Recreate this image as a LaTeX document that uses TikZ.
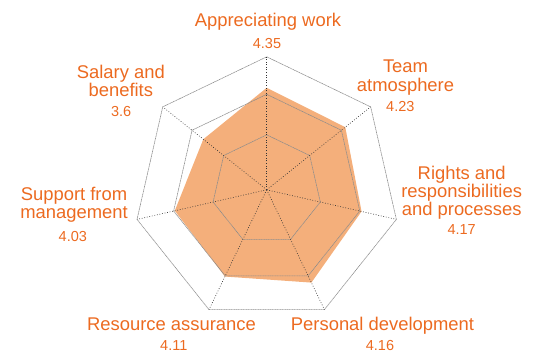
\documentclass[tikz,border=0pt]{standalone}
\usepackage{fontspec}
\setmainfont{Liberation Sans}
\definecolor{lblcol}{HTML}{EC6A20}
\definecolor{areacol}{HTML}{F4AF7B}
\begin{document}
\begin{tikzpicture}[x=1pt,y=-1pt,
  lab/.style={text=lblcol, align=center, inner sep=0pt, anchor=base, font=\fontsize{18.4}{18.3}\selectfont},
  val/.style={text=lblcol, inner sep=0pt, anchor=base, font=\fontsize{14.5}{16}\selectfont},
  ring/.style={draw=black!45, line width=0.6pt, dash pattern=on 1.2pt off 0.5pt},
  spoke/.style={draw=black!80, line width=0.6pt, dash pattern=on 0.8pt off 1.8pt},
  area/.style={fill=areacol}]
\useasboundingbox (0,0) rectangle (533,354);
\coordinate (c) at (266.7,189.8);
\begin{scope}[shift={(266.7,189.8)}]
  \foreach \r/\n in {55/a,95.5/b,133/o} {
    \foreach \k in {0,...,6} {
      \coordinate (\n\k) at ({\k*360/7-90}:\r);
    }
  }
  \foreach \r [count=\k from 0] in {102,100.5,97.3,103,96.3,94.3,81.1} {
    \coordinate (d\k) at ({\k*360/7-90}:\r);
  }
\end{scope}
\fill[area] (d0) -- (d1) -- (d2) -- (d3) -- (d4) -- (d5) -- (d6) -- cycle;
\foreach \n in {a,b,o} {
  \draw[ring] (\n0) -- (\n1) -- (\n2) -- (\n3) -- (\n4) -- (\n5) -- (\n6) -- cycle;
}
\foreach \k in {0,...,6} {
  \draw[spoke] (c) -- (o\k);
}
\node[lab] (l0) at (268,26) {Appreciating work};
\node[val] (n0) at (267,48.3) {4.35};
\node[lab] (l1) at (405.5,91) {Team\\atmosphere};
\node[val] (n1) at (400.3,111.7) {4.23};
\node[lab] (l2) at (461.7,215.7) {Rights and\\responsibilities\\and processes};
\node[val] (n2) at (461.7,234.3) {4.17};
\node[lab] (l3) at (382.5,330) {Personal development};
\node[val] (n3) at (380,350.7) {4.16};
\node[lab] (l4) at (171.5,330) {Resource assurance};
\node[val] (n4) at (173.8,350.7) {4.11};
\node[lab] (l5) at (74,218.3) {Support from\\management};
\node[val] (n5) at (72.8,241.7) {4.03};
\node[lab] (l6) at (120.8,96.7) {Salary and\\benefits};
\node[val] (n6) at (121.2,116.7) {3.6};
\end{tikzpicture}
\end{document}
